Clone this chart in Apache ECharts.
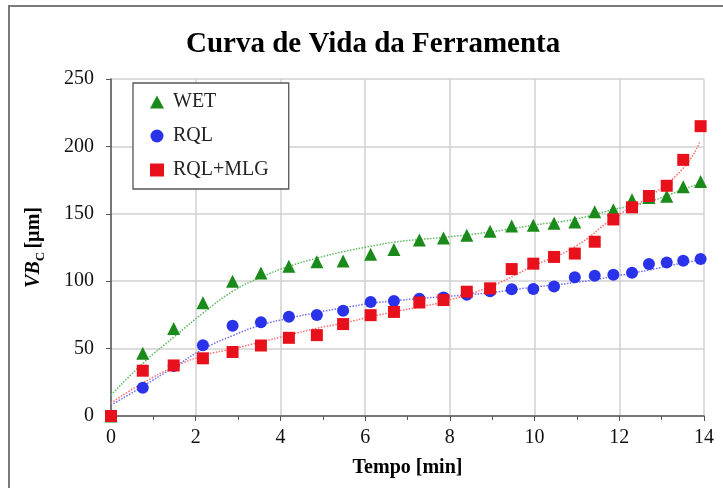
<!DOCTYPE html>
<html>
<head>
<meta charset="utf-8">
<script src="https://cdn.jsdelivr.net/npm/echarts@6/dist/echarts.min.js"></script>
<style>
  html, body { margin: 0; padding: 0; background: #fff; }
  #chart { width: 723px; height: 488px; }
</style>
</head>
<body>
<div id="chart"></div>
<script>
// measured points (tempo in min, VBc in µm)
const tempo = [0, 0.75, 1.48, 2.17, 2.87, 3.54, 4.2, 4.86, 5.48, 6.13, 6.68, 7.28, 7.85, 8.4, 8.95, 9.46, 9.97, 10.46, 10.95, 11.42, 11.86, 12.3, 12.7, 13.12, 13.51, 13.92]
const wet = [0, 46.5, 65, 84, 100, 106, 111, 114.5, 115, 120, 123.5, 130.5, 132, 134, 137, 141, 141.5, 143, 144, 151.5, 153, 160.5, 162, 163, 170, 174]
const rql = [0, 21, 37, 52.5, 67, 69.5, 73.7, 75, 78, 84.5, 85.3, 87, 88, 90, 92.5, 94, 94.2, 96, 103, 104, 104.8, 106.3, 112.8, 113.8, 115.2, 116.5]
const rqlMlg = [0, 33.6, 37.5, 42.8, 47.5, 52.3, 58, 60, 68.2, 74.8, 77.2, 84.2, 86, 92.2, 94.7, 109, 113, 118, 120.5, 129.3, 145.8, 154.8, 163.2, 170.8, 190, 215]

// dotted trend lines
const trendTempo = [0, 0.75, 1.5, 2.2, 2.9, 3.55, 4.2, 4.85, 5.5, 6.15, 6.7, 7.3, 7.85, 8.95, 9.95, 10.95, 11.85, 12.7, 13.5, 13.9]
const wetTrend = [15.5, 39, 59, 77, 93, 103, 111, 117, 122, 126, 129, 131, 132.5, 136.5, 141.5, 146, 153, 159, 168, 172.5]
const rqlTrend = [8, 22, 36.5, 50, 60, 67.5, 72.5, 76.7, 80.4, 83.6, 85.5, 87.3, 88.5, 91.5, 95.5, 99, 103.4, 108.3, 113.5, 115.7]
const mlgTrend = [9.5, 24.5, 36.5, 45, 50, 55, 60, 65, 69, 73.7, 77.4, 81, 84.8, 96, 111, 125.5, 146.5, 162.5, 183.5, 203]

const serieNames = ['WET', 'RQL', 'RQL+MLG']

const pairs = (xs, ys) => xs.map((x, i) => [x, ys[i]])
const serif = 'Liberation Serif'

const chart = echarts.init(document.getElementById('chart'))

const trend = (ys, color) => ({
  type: 'line',
  data: pairs(trendTempo, ys),
  smooth: true,
  showSymbol: false,
  silent: true,
  lineStyle: { color: color, width: 1.5, type: 'dotted' },
  z: 1
})

chart.setOption({
  backgroundColor: '#fff',
  animation: false,
  title: {
    text: 'Curva de Vida da Ferramenta',
    left: 181,
    top: 25,
    textStyle: { fontFamily: serif, fontSize: 29, fontWeight: 'bold', color: '#000' }
  },
  graphic: [{
    type: 'rect',
    shape: { x: 9, y: 6, width: 730, height: 500 },
    style: { fill: 'none', stroke: '#7a7a7a', lineWidth: 2 },
    silent: true
  }],
  legend: {
    data: serieNames,
    orient: 'vertical',
    left: 133,
    top: 83,
    backgroundColor: '#fff',
    borderColor: '#555',
    borderWidth: 1.3,
    padding: [9, 20, 9, 17],
    itemGap: 14,
    itemWidth: 14,
    itemHeight: 13,
    textStyle: { fontFamily: serif, fontSize: 20, color: '#222', padding: [0, 0, 0, 4] }
  },
  grid: { left: 111, top: 79, width: 593, height: 337 },
  xAxis: {
    type: 'value',
    min: 0,
    max: 14,
    interval: 2,
    name: 'Tempo [min]',
    nameLocation: 'middle',
    nameGap: 42,
    nameTextStyle: { fontFamily: serif, fontSize: 20, fontWeight: 'bold', color: '#000' },
    axisLine: { show: true, lineStyle: { color: '#555', width: 1.5 } },
    axisTick: { show: true, length: 5, lineStyle: { color: '#555' } },
    minorTick: { show: true, splitNumber: 2, length: 4, lineStyle: { color: '#555' } },
    splitLine: { show: true, lineStyle: { color: '#d0d0d0', width: 1.5 } },
    axisLabel: { fontFamily: serif, fontSize: 20, color: '#111', margin: 12 }
  },
  yAxis: {
    type: 'value',
    min: 0,
    max: 250,
    interval: 50,
    name: '{vb|VB}{c|C} {u|[µm]}',
    nameLocation: 'middle',
    nameGap: 64,
    nameTextStyle: {
      rich: {
        vb: { fontFamily: serif, fontSize: 20, fontWeight: 'bold', fontStyle: 'italic', color: '#000', lineHeight: 26, verticalAlign: 'middle' },
        c: { fontFamily: serif, fontSize: 13, fontWeight: 'bold', color: '#000', lineHeight: 14, verticalAlign: 'bottom' },
        u: { fontFamily: serif, fontSize: 20, fontWeight: 'bold', color: '#000', lineHeight: 26, verticalAlign: 'middle' }
      }
    },
    axisLine: { show: true, lineStyle: { color: '#555', width: 1.5 } },
    axisTick: { show: true, length: 5, lineStyle: { color: '#555' } },
    splitLine: { show: true, lineStyle: { color: '#d0d0d0', width: 1.5 } },
    axisLabel: { fontFamily: serif, fontSize: 20, color: '#111', margin: 17 }
  },
  series: [
    trend(wetTrend, '#5cb85c'),
    trend(rqlTrend, '#6f6ff5'),
    trend(mlgTrend, '#ff6b6b'),
    {
      name: 'WET',
      type: 'scatter',
      symbol: 'triangle',
      symbolSize: 13,
      data: pairs(tempo, wet),
      itemStyle: { color: '#1a8a1a', opacity: 1 },
      z: 3
    },
    {
      name: 'RQL',
      type: 'scatter',
      symbol: 'circle',
      symbolSize: 12,
      data: pairs(tempo, rql),
      itemStyle: { color: '#2a32ea', opacity: 1 },
      z: 3
    },
    {
      name: 'RQL+MLG',
      type: 'scatter',
      symbol: 'rect',
      symbolSize: 12,
      data: pairs(tempo, rqlMlg),
      itemStyle: { color: '#e8101a', opacity: 1 },
      z: 3
    }
  ]
})
</script>
</body>
</html>
